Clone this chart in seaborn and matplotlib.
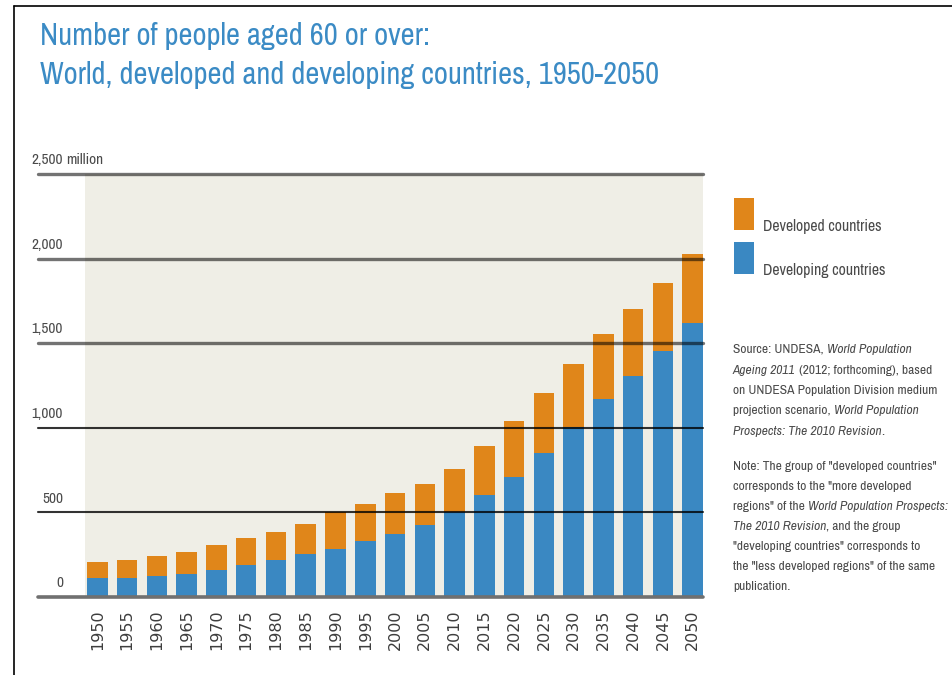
import matplotlib
matplotlib.use("Agg")
import matplotlib.pyplot as plt
import matplotlib.lines as mlines
import matplotlib.transforms as mtrans
from matplotlib import font_manager
from matplotlib.patches import Rectangle
import seaborn as sns
import pandas as pd

years = ["1950", "1955", "1960", "1965", "1970", "1975", "1980", "1985", "1990", "1995",
         "2000", "2005", "2010", "2015", "2020", "2025", "2030", "2035", "2040", "2045", "2050"]
total = [208, 220, 243, 265, 308, 350, 383, 430, 500, 548, 613, 668, 756, 895, 1038, 1204,
         1378, 1552, 1704, 1858, 2030]
developing = [115, 115, 124, 134, 157, 187, 220, 254, 286, 331, 375, 428, 500, 602, 712, 852,
              1003, 1172, 1304, 1456, 1619]
ytick_vals = [0, 500, 1000, 1500, 2000, 2500]
ytick_labels = ["0", "500", "1,000", "1,500", "2,000", "2,500"]
series_names = ["Developed countries", "Developing countries"]

ORANGE = "#e0861a"
BLUE = "#3a88c2"
BEIGE = "#efeee6"
TITLE_BLUE = "#3b8bc5"
GREY_TXT = "#4a4a4a"

# choose a narrow family if one exists
names = {f.name for f in font_manager.fontManager.ttflist}
narrow = sorted(n for n in names if ("Condensed" in n or "Narrow" in n))
base = narrow[0] if narrow else ("Roboto" if "Roboto" in names else "Liberation Sans")
COND = [base, "DejaVu Sans"]

df = pd.DataFrame({"year": years, "total": total, "developing": developing})

sns.set_theme(style="white")
plt.rcParams["font.family"] = ["DejaVu Sans"]

W, H = 953, 675
fig = plt.figure(figsize=(W / 100, H / 100), dpi=100)
fig.patch.set_facecolor("white")
fig.canvas.draw()
renderer = fig.canvas.get_renderer()


def px(x0, y0, x1, y1):
    return [x0 / W, 1 - y1 / H, (x1 - x0) / W, (y1 - y0) / H]


def fit(t, target):
    w = t.get_window_extent(renderer=renderer).width
    t.set_fontsize(t.get_fontsize() * target / w)


ax = fig.add_axes(px(38, 174, 703, 597))
ax.set_facecolor("none")

sns.barplot(data=df, x="year", y="total", color=ORANGE, width=0.69, ax=ax,
            saturation=1, zorder=2, linewidth=0)
sns.barplot(data=df, x="year", y="developing", color=BLUE, width=0.69, ax=ax,
            saturation=1, zorder=3, linewidth=0)

ax.set_xlim(-1.993, 20.345)
ax.set_ylim(0, 2500)
ax.axvspan(-0.40, 20.345, color=BEIGE, zorder=0, lw=0)

for v in ytick_vals:
    if v == 0:
        ax.axhline(v, color="#707070", lw=2.6, zorder=5, clip_on=False)
    elif v >= 1500:
        ax.axhline(v, color="#000000", alpha=0.55, lw=2.4, zorder=5, clip_on=False)
    else:
        ax.axhline(v, color="#000000", alpha=0.8, lw=1.5, zorder=5, clip_on=False)

for s in ax.spines.values():
    s.set_visible(False)
ax.set_yticks([])
ax.set_xlabel("")
ax.set_ylabel("")
ax.tick_params(axis="x", length=0, pad=9, labelsize=11.5, labelcolor="#3d3d3d",
               labelrotation=90)
for t in ax.get_xticklabels():
    t.set_va("top")

# y labels
trans = mtrans.blended_transform_factory(ax.transAxes, ax.transData)
lab_x = (63 - 38) / 665
yfs = 11
for v, lab in zip(ytick_vals, ytick_labels):
    ax.text(lab_x, v + 40, lab, transform=trans, ha="right", va="bottom",
            fontsize=yfs, color=GREY_TXT, family=COND)
ax.text(lab_x + 3 / 665, 2540, "million", transform=trans, ha="left", va="bottom",
        fontsize=yfs, color=GREY_TXT, family=COND)

# title
t1 = fig.text(40 / W, 1 - 45 / H, "Number of people aged 60 or over:", fontsize=22,
              color=TITLE_BLUE, family=COND, ha="left", va="baseline")
t2 = fig.text(40 / W, 1 - 84 / H, "World, developed and developing countries, 1950-2050",
              fontsize=22, color=TITLE_BLUE, family=COND, ha="left", va="baseline")
fit(t2, 620)
t1.set_fontsize(t2.get_fontsize())

# border
fig.add_artist(mlines.Line2D([14 / W, 1], [1 - 6 / H, 1 - 6 / H], color="black", lw=1.2))
fig.add_artist(mlines.Line2D([14 / W, 14 / W], [0, 1 - 6 / H], color="black", lw=1.2))

# legend
for i, (name, col) in enumerate(zip(series_names, [ORANGE, BLUE])):
    y0 = 198 + i * 44
    fig.add_artist(Rectangle((734 / W, 1 - (y0 + 32) / H), 20 / W, 32 / H,
                             transform=fig.transFigure, color=col, lw=0))
    lt = fig.text(763 / W, 1 - (y0 + 28) / H, name, fontsize=11.5, color=GREY_TXT,
                  family=COND, ha="left", va="center")
    if i == 0:
        fit(lt, 118)
        lfs = lt.get_fontsize()
    else:
        lt.set_fontsize(lfs)

# source / note with mixed styles
src_lines = [
    [("Source: UNDESA, ", "normal"), ("World Population", "italic")],
    [("Ageing 2011", "italic"), (" (2012; forthcoming), based", "normal")],
    [("on UNDESA Population Division medium", "normal")],
    [("projection scenario, ", "normal"), ("World Population", "italic")],
    [("Prospects: The 2010 Revision", "italic"), (".", "normal")],
]
note_lines = [
    [("Note: The group of \"developed countries\"", "normal")],
    [("corresponds to the \"more developed", "normal")],
    [("regions\" of the ", "normal"), ("World Population Prospects:", "italic")],
    [("The 2010 Revision", "italic"), (", and the group", "normal")],
    [("\"developing countries\" corresponds to", "normal")],
    [("the \"less developed regions\" of the same", "normal")],
    [("publication.", "normal")],
]

probe = fig.text(0, 0, "on UNDESA Population Division medium", fontsize=10, family=COND)
fit(probe, 204)
sfs = probe.get_fontsize()
probe.remove()


def draw_lines(lines, y_start, step):
    for i, segs in enumerate(lines):
        y = y_start + i * step
        x = 733
        for txt, style in segs:
            t = fig.text(x / W, 1 - y / H, txt, fontsize=sfs, color=GREY_TXT,
                         family=COND, style=style, ha="left", va="baseline")
            x += t.get_window_extent(renderer=renderer).width


draw_lines(src_lines, 353, 20.5)
draw_lines(note_lines, 470, 20.0)

fig.savefig("out.png", dpi=100, facecolor="white")
